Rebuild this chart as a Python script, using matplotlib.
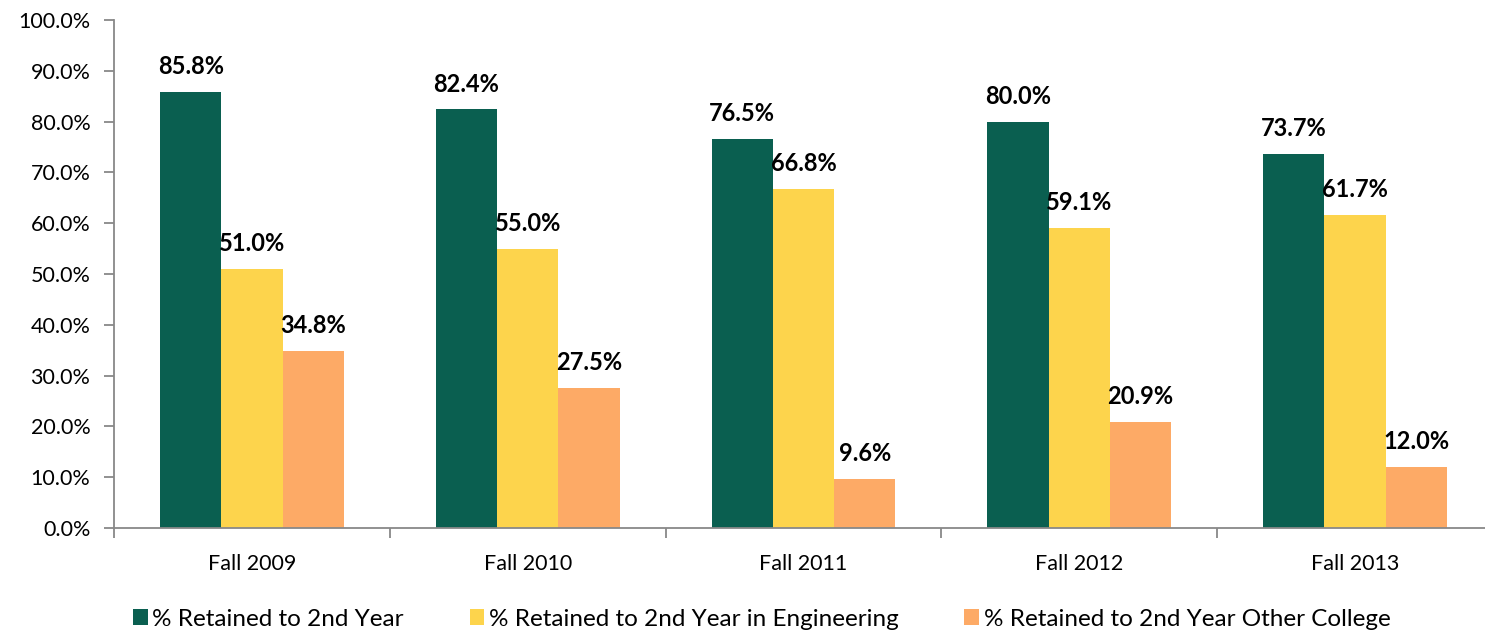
import matplotlib.pyplot as plt
import numpy as np

categories = ['Fall 2009', 'Fall 2010', 'Fall 2011', 'Fall 2012', 'Fall 2013']
retained = [85.8, 82.4, 76.5, 80.0, 73.7]
retained_eng = [51.0, 55.0, 66.8, 59.1, 61.7]
retained_other = [34.8, 27.5, 9.6, 20.9, 12.0]
series_names = ['% Retained to 2nd Year',
                '% Retained to 2nd Year in Engineering',
                '% Retained to 2nd Year Other College']
colors = ['#0A5F50', '#FDD44C', '#FDAA66']

plt.rcParams['font.family'] = ['Lato', 'DejaVu Sans']

fig = plt.figure(figsize=(14.85, 6.34), dpi=100)
ax = fig.add_axes([114 / 1485, 106 / 634, 1379 / 1485, 508 / 634])

x = np.arange(len(categories))
w = 0.222
for i, (vals, name, c) in enumerate(zip([retained, retained_eng, retained_other], series_names, colors)):
    bars = ax.bar(x + (i - 1) * w, vals, w, color=c, label=name, zorder=2)
    for b, v in zip(bars, vals):
        ax.annotate(f'{v:.1f}%', (b.get_x() + b.get_width() / 2, v),
                    xytext=(0, 10), textcoords='offset points',
                    ha='center', va='bottom', fontsize=17, fontweight='bold')

ax.set_xlim(-0.5, 4.5)
ax.set_ylim(0, 100)
ax.set_yticks(np.arange(0, 101, 10))
ax.set_yticklabels([f'{v:.1f}%' for v in np.arange(0, 101, 10)], fontsize=15.5)

ax.set_xticks(np.arange(-0.5, 5, 1))
ax.set_xticklabels([])
ax.set_xticks(x, minor=True)
ax.set_xticklabels(categories, minor=True, fontsize=15.5)
ax.tick_params(axis='x', which='minor', length=0, pad=19)
ax.tick_params(axis='x', which='major', length=7, color='#888888', width=1.3)
ax.tick_params(axis='y', length=7, color='#888888', width=1.3, pad=10)

for s in ['top', 'right']:
    ax.spines[s].set_visible(False)
for s in ['left', 'bottom']:
    ax.spines[s].set_color('#888888')
    ax.spines[s].set_linewidth(1.3)

fig.legend(loc='center left', bbox_to_anchor=(133 / 1485, 15 / 634), ncol=3,
           frameon=False, fontsize=17.5, handlelength=0.6, handleheight=0.6,
           handletextpad=0.2, columnspacing=2.7, borderpad=0, borderaxespad=0)

fig.savefig('out.png', dpi=100)
